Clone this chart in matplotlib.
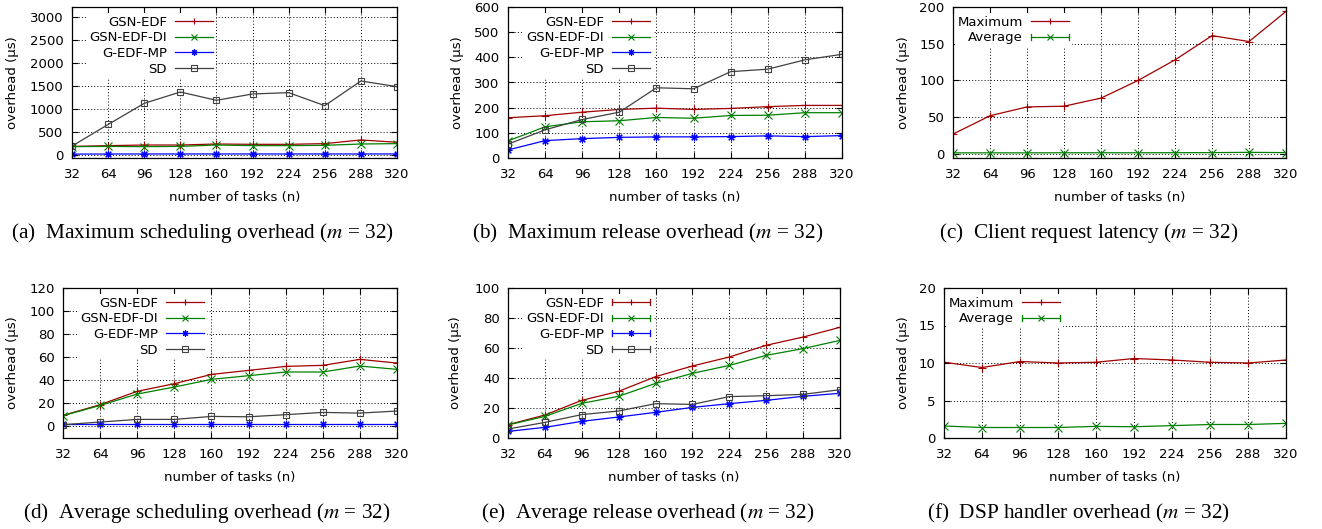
import numpy as np
import matplotlib
matplotlib.use('Agg')
import matplotlib.pyplot as plt
from matplotlib.lines import Line2D
from matplotlib.legend_handler import HandlerLine2D

plt.rcParams['font.family'] = 'DejaVu Sans'
plt.rcParams['font.size'] = 9.5
plt.rcParams['mathtext.fontset'] = 'stix'

# number of tasks
tasks = [32, 64, 96, 128, 160, 192, 224, 256, 288, 320]

# (a) maximum scheduling overhead
a_gsn = [180, 196, 210, 210, 232, 225, 225, 240, 320, 270]
a_gsn_di = [174, 180, 174, 180, 210, 196, 196, 203, 232, 240]
a_gedf = [12, 14, 15, 15, 15, 15, 15, 15, 15, 15]
a_sd = [187, 657, 1118, 1365, 1184, 1322, 1351, 1067, 1605, 1481]

# (b) maximum release overhead
b_gsn = [160, 168, 182, 193, 198, 193, 197, 204, 209, 209]
b_gsn_di = [68, 124, 144, 148, 161, 158, 169, 170, 180, 180]
b_gedf = [32, 69, 77, 82, 84, 84, 85, 88, 85, 89]
b_sd = [55, 112, 153, 182, 279, 275, 343, 353, 390, 412]

# (c) client request latency
c_max = [27, 52, 64, 65, 76, 100, 128, 161, 153, 194]
c_avg = [1.5, 1.5, 1.5, 1.6, 1.6, 1.6, 1.7, 1.8, 2.2, 1.8]

# (d) average scheduling overhead
d_gsn = [9.0, 18.3, 30.0, 36.6, 44.7, 48.2, 51.7, 52.6, 57.8, 54.6]
d_gsn_di = [8.7, 17.7, 27.6, 33.7, 40.4, 43.6, 46.8, 46.8, 52.0, 49.1]
d_gedf = [1.2, 1.2, 1.2, 1.2, 1.2, 1.2, 1.2, 1.2, 1.2, 1.2]
d_sd = [0.9, 3.2, 5.5, 5.5, 8.1, 7.8, 9.6, 11.6, 11.0, 12.8]

# (e) average release overhead
e_gsn = [8.9, 15.3, 25.1, 31.1, 40.9, 48.0, 54.0, 61.8, 67.3, 73.8]
e_gsn_di = [8.7, 14.4, 23.1, 27.8, 36.4, 43.1, 48.4, 55.1, 59.6, 65.1]
e_gedf = [4.4, 7.1, 11.1, 14.0, 17.1, 20.4, 22.9, 25.1, 27.8, 29.8]
e_sd = [6.0, 10.4, 15.6, 18.0, 22.9, 22.4, 27.6, 28.2, 29.1, 32.2]

# (f) DSP handler overhead
f_max = [10.1, 9.4, 10.2, 10.0, 10.1, 10.6, 10.4, 10.1, 10.0, 10.4]
f_avg = [1.6, 1.4, 1.4, 1.4, 1.55, 1.5, 1.65, 1.8, 1.8, 1.95]

captions = ['(a)  Maximum scheduling overhead ($m$ = 32)',
            '(b)  Maximum release overhead ($m$ = 32)',
            '(c)  Client request latency ($m$ = 32)',
            '(d)  Average scheduling overhead ($m$ = 32)',
            '(e)  Average release overhead ($m$ = 32)',
            '(f)  DSP handler overhead ($m$ = 32)']

RED, GREEN, BLUE, GRAY = '#a00000', '#008000', '#0000ff', '#404040'
sched_names = ['GSN-EDF', 'GSN-EDF-DI', 'G-EDF-MP', 'SD']
sched_style = [dict(color=RED, marker='+'),
               dict(color=GREEN, marker='x'),
               dict(color=BLUE, marker=(8, 2, 0)),
               dict(color=GRAY, marker='s', fillstyle='none', markersize=4.8)]


class CapHandler(HandlerLine2D):
    # legend sample with errorbar caps at both ends (gnuplot yerrorlines look)
    def create_artists(self, legend, orig_handle, xdescent, ydescent,
                       width, height, fontsize, trans):
        arts = list(super().create_artists(legend, orig_handle, xdescent, ydescent,
                                           width, height, fontsize, trans))
        y0 = height / 2 - ydescent
        h = height * 0.32
        for x in (-xdescent, width - xdescent):
            cap = Line2D([x, x], [y0 - h, y0 + h], color=orig_handle.get_color(),
                         lw=orig_handle.get_linewidth())
            cap.set_transform(trans)
            arts.append(cap)
        return arts


W, H = 1322, 529
fig = plt.figure(figsize=(W / 100, H / 100), dpi=100)

# axes boxes in pixels: left, top, right, bottom
boxes = [(72, 7, 397, 158), (508, 7, 842, 158), (953, 7, 1286, 158),
         (63, 288, 397, 438), (508, 288, 840, 438), (944, 288, 1286, 438)]
ylabel_px = [13, 458, 903, 13, 455, 903]
legend_right_px = [215.6, 652.6, 1071.6, 206.6, 652.6, 1062.6]


def make_axes(i):
    l, t, r, b = boxes[i]
    ax = fig.add_axes([l / W, (H - b) / H, (r - l) / W, (b - t) / H])
    ax.set_xlim(32, 320)
    ax.set_xticks(tasks)
    ax.tick_params(direction='in', top=True, right=True, length=4, width=0.8,
                   pad=6)
    ax.tick_params(axis='x', pad=7)
    for s in ax.spines.values():
        s.set_linewidth(0.9)
    ax.grid(True, color='black', linestyle=(0, (1, 2.2)), linewidth=0.7)
    ax.set_xlabel('number of tasks (n)')
    # label top about 33 px under the axes
    ax.xaxis.set_label_coords(0.5, -33 / (b - t))
    ax.set_ylabel('overhead (µs)', va='center')
    ax.yaxis.set_label_coords((ylabel_px[i] - l) / (r - l), 0.5)
    return ax


def add_legend(ax, i, lines, labels, capped):
    l, t, r, b = boxes[i]
    hm = {ln: CapHandler() for ln in capped}
    leg = ax.legend(lines, labels, loc='upper right',
                    bbox_to_anchor=((legend_right_px[i] - l) / (r - l), 1 - 6 / (b - t)),
                    markerfirst=False, frameon=True, fancybox=False,
                    borderpad=0.2, borderaxespad=0, labelspacing=0.2,
                    handlelength=2.9, handletextpad=0.6, numpoints=1,
                    markerscale=0.85, handler_map=hm)
    leg.get_frame().set_facecolor('white')
    leg.get_frame().set_edgecolor('none')
    leg.get_frame().set_alpha(1)
    return leg


def sched_panel(i, series, ylim, yticks, capped=False):
    ax = make_axes(i)
    lines = []
    for vals, st in zip(series, sched_style):
        kw = dict(markersize=5.5, markeredgewidth=0.8)
        kw.update(st)
        ln, = ax.plot(tasks, vals, lw=0.9, **kw)
        lines.append(ln)
    ax.set_ylim(*ylim)
    ax.set_yticks(yticks)
    add_legend(ax, i, lines, sched_names, lines if capped else [])
    return ax


def pair_panel(i, vmax, vavg, ylim, yticks):
    ax = make_axes(i)
    l1, = ax.plot(tasks, vmax, color=RED, marker='+', lw=0.9, markersize=5.5,
                  markeredgewidth=0.8)
    l2, = ax.plot(tasks, vavg, color=GREEN, marker='x', lw=0.9, markersize=5.5,
                  markeredgewidth=0.8)
    ax.set_ylim(*ylim)
    ax.set_yticks(yticks)
    add_legend(ax, i, [l1, l2], ['Maximum', 'Average'], [l2])
    return ax


sched_panel(0, [a_gsn, a_gsn_di, a_gedf, a_sd], (-73, 3217), np.arange(0, 3001, 500))
sched_panel(1, [b_gsn, b_gsn_di, b_gedf, b_sd], (0, 600), np.arange(0, 601, 100))
pair_panel(2, c_max, c_avg, (-5.5, 200), np.arange(0, 201, 50))
sched_panel(3, [d_gsn, d_gsn_di, d_gedf, d_sd], (-10.7, 120), np.arange(0, 121, 20))
sched_panel(4, [e_gsn, e_gsn_di, e_gedf, e_sd], (0, 100), np.arange(0, 101, 20), capped=True)
pair_panel(5, f_max, f_avg, (0, 20), np.arange(0, 21, 5))

cap_x = [203, 648, 1089, 207, 648, 1078]
cap_y = [233, 233, 233, 513, 513, 513]
for txt, cx, cy in zip(captions, cap_x, cap_y):
    fig.text(cx / W, 1 - cy / H, txt, ha='center', va='center',
             family='Liberation Serif', fontsize=15.3)

fig.savefig('out.png', dpi=100)
